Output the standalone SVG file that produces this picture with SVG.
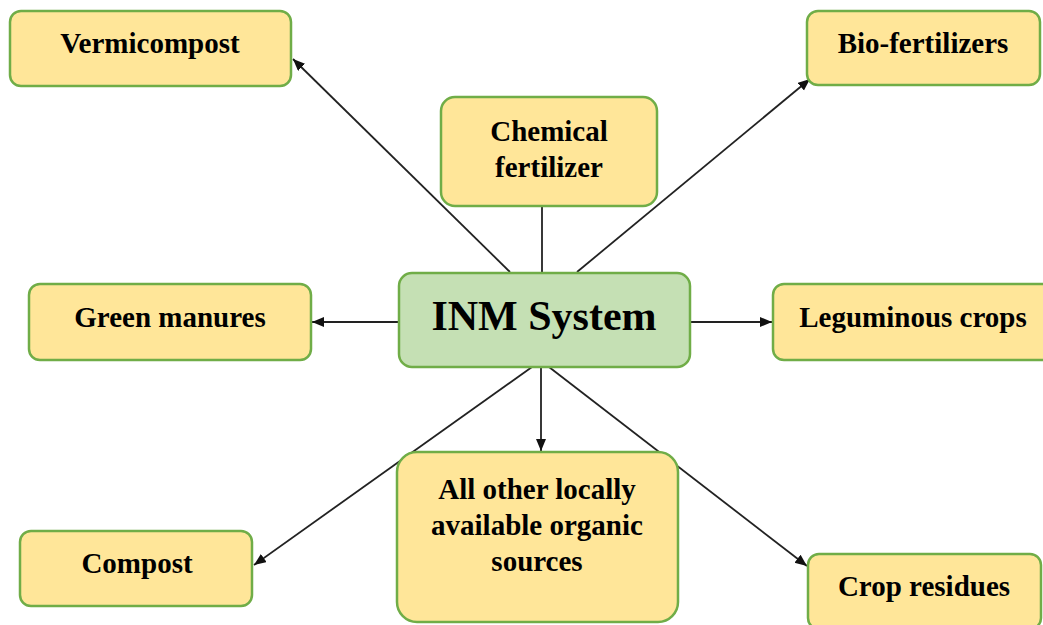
<svg xmlns="http://www.w3.org/2000/svg" width="1043" height="625" viewBox="0 0 1043 625">
<style>
.box{fill:#FFE699;stroke:#70AD47;stroke-width:2.5}
.hub{fill:#C5E0B4;stroke:#70AD47;stroke-width:2.5}
.t{font-family:"Liberation Serif","Times New Roman",serif;font-weight:bold;font-size:29px;fill:#000;text-anchor:middle}
.big{font-size:42px}
.c{stroke:#222;stroke-width:1.8;fill:none}
</style>
<defs>
<marker id="ah" markerUnits="userSpaceOnUse" markerWidth="14" markerHeight="12" refX="12" refY="5" orient="auto">
<path d="M0,0 L12,5 L0,10 z" fill="#111"/>
</marker>
</defs>
<rect width="1043" height="625" fill="#fff"/>
<g id="connectors">
<line class="c" x1="510" y1="272" x2="293" y2="59" marker-end="url(#ah)"/>
<line class="c" x1="542" y1="207" x2="542" y2="272"/>
<line class="c" x1="577" y1="272" x2="810" y2="79" marker-end="url(#ah)"/>
<line class="c" x1="399" y1="322" x2="312" y2="322" marker-end="url(#ah)"/>
<line class="c" x1="690" y1="322" x2="772" y2="322" marker-end="url(#ah)"/>
<line class="c" x1="541" y1="367" x2="541" y2="451" marker-end="url(#ah)"/>
<line class="c" x1="532" y1="367" x2="254" y2="565" marker-end="url(#ah)"/>
<line class="c" x1="549" y1="367" x2="807" y2="566" marker-end="url(#ah)"/>
</g>
<g id="vermicompost">
<rect class="box" x="10" y="11" width="281" height="75" rx="11"/>
<text class="t" x="150" y="53">Vermicompost</text>
</g>
<g id="chemical">
<rect class="box" x="441" y="97" width="216" height="109" rx="14"/>
<text class="t" x="549" y="141">Chemical</text>
<text class="t" x="549" y="177">fertilizer</text>
</g>
<g id="bio">
<rect class="box" x="807" y="11" width="233" height="74" rx="11"/>
<text class="t" x="923" y="53">Bio-fertilizers</text>
</g>
<g id="green">
<rect class="box" x="29" y="284" width="282" height="76" rx="11"/>
<text class="t" x="170" y="327">Green manures</text>
</g>
<g id="inm">
<rect class="hub" x="399" y="273" width="291" height="94" rx="13"/>
<text class="t big" x="544" y="330">INM System</text>
</g>
<g id="leguminous">
<rect class="box" x="773" y="284" width="285" height="76" rx="11"/>
<text class="t" x="913" y="327">Leguminous crops</text>
</g>
<g id="others">
<rect class="box" x="397" y="452" width="281" height="170" rx="20"/>
<text class="t" x="537" y="499">All other locally</text>
<text class="t" x="537" y="535">available organic</text>
<text class="t" x="537" y="571">sources</text>
</g>
<g id="compost">
<rect class="box" x="20" y="531" width="232" height="75" rx="11"/>
<text class="t" x="137" y="573">Compost</text>
</g>
<g id="residues">
<rect class="box" x="808" y="554" width="233" height="75" rx="11"/>
<text class="t" x="924" y="596">Crop residues</text>
</g>
</svg>
